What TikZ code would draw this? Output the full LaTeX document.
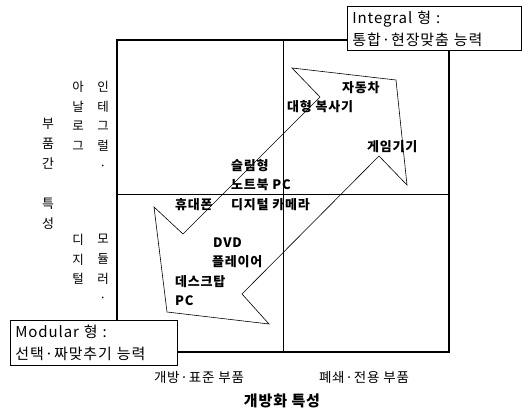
\documentclass[tikz,border=0pt]{standalone}
\usepackage{fontspec}
\setmainfont{Noto Sans CJK KR}
\newfontfamily\spaced[LetterSpace=6]{Noto Sans CJK KR}
\begin{document}
\begin{tikzpicture}[x=1pt,y=-1pt,
  lbl/.style={font=\spaced\fontsize{13}{15}\selectfont\bfseries, inner sep=0pt, anchor=west},
  vtxt/.style={font=\fontsize{12.5}{19.7}\selectfont, align=center, inner sep=0pt, anchor=north},
  axl/.style={font=\spaced\fontsize{13.5}{15}\selectfont, inner sep=0pt},
  typebox/.style={draw, fill=white, line width=0.7pt, anchor=north west, align=left,
    inner xsep=5pt, inner ysep=0pt, font=\spaced\fontsize{15}{22}\selectfont},
  flow/.style={line width=0.6pt, line join=miter}]
\useasboundingbox (0,0) rectangle (523,412);
% frame and quadrant lines
\node[draw, line width=2pt, minimum width=332pt, minimum height=312pt, inner sep=0pt, anchor=north west] (frame) at (116,39) {};
\coordinate (vt) at (283,39); \coordinate (vb) at (283,351);
\coordinate (hl) at (116,194); \coordinate (hr) at (448,194);
\draw[line width=0.8pt] (vt) -- (vb);
\draw[line width=0.8pt] (hl) -- (hr);
% double-headed hollow arrow
\coordinate (p1) at (292,68);
\coordinate (p2) at (396,80);
\coordinate (p3) at (407,185);
\coordinate (p4) at (379,156);
\coordinate (p5) at (242,294);
\coordinate (p6) at (269,324);
\coordinate (p7) at (167,312);
\coordinate (p8) at (154,207);
\coordinate (p9) at (183,234);
\coordinate (p10) at (320,97);
\draw[flow] (p1) -- (p2) -- (p3) -- (p4) -- (p5) -- (p6) -- (p7) -- (p8) -- (p9) -- (p10) -- cycle;
% product labels
\node[lbl] (car) at (342,88) {자동차};
\node[lbl] (copier) at (287,107) {대형 복사기};
\node[lbl] (game) at (367,147) {게임기기};
\node[lbl] (slim) at (231,166) {슬림형};
\node[lbl] (note) at (231,185) {노트북 PC};
\node[lbl] (phone) at (175,205) {휴대폰};
\node[lbl] (cam) at (231,205) {디지털 카메라};
\node[lbl] (dvd) at (213,243) {DVD};
\node[lbl] (player) at (212,262) {플레이어};
\node[lbl] (desk) at (175,282) {데스크탑};
\node[lbl] (pc) at (175,301) {PC};
% vertical axis labels
\node[vtxt, font=\fontsize{13}{20}\selectfont] (yax) at (48,118) {부\\품\\간\\ \\특\\성};
\node[vtxt] (ana) at (78,81) {아\\날\\로\\그};
\node[vtxt] (integ) at (103,81) {인\\테\\그\\럴\\·};
\node[vtxt] (digi) at (78,234) {디\\지\\털};
\node[vtxt] (modu) at (103,234) {모\\듈\\러\\·};
% horizontal axis labels
\node[axl] (open) at (199,377) {개방·표준 부품};
\node[axl] (closed) at (364,377) {폐쇄·전용 부품};
\node[axl, font=\spaced\fontsize{15}{17}\selectfont\bfseries] (xax) at (282,401) {개방화 특성};
% type boxes
\node[typebox, text width=164pt, minimum height=44pt] (integral) at (347,6) {Integral 형 :\\통합·현장맞춤 능력};
\node[typebox, text width=157pt, minimum height=45pt] (modular) at (10,320) {Modular 형 :\\선택·짜맞추기 능력};
\end{tikzpicture}
\end{document}
